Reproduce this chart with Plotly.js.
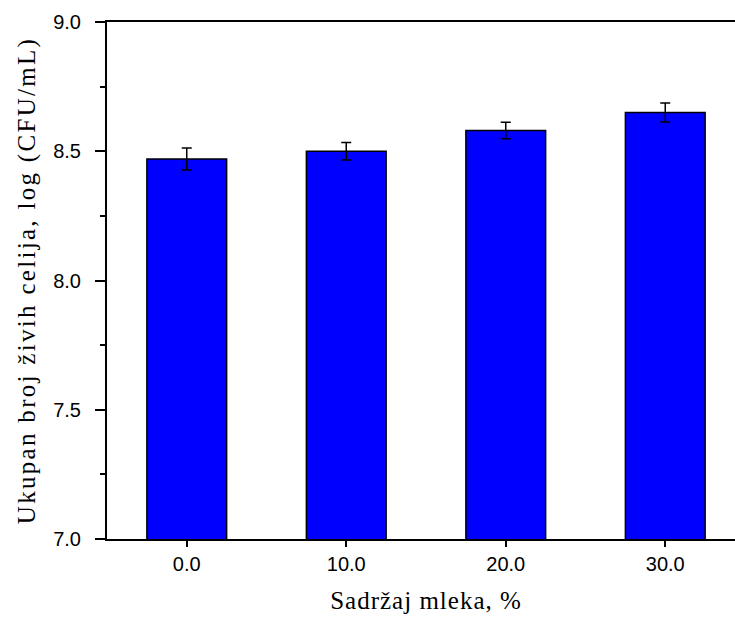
<!DOCTYPE html>
<html>
<head>
<meta charset="utf-8">
<script src="https://cdn.plot.ly/plotly-3.0.1.min.js"></script>
<style>
html, body { margin:0; padding:0; overflow:hidden; background:#fff; }
#chart { width:745px; height:621px; }
.xtitle { letter-spacing: 1px; }
.ytitle { letter-spacing: 2.3px; }
</style>
</head>
<body>
<div id="chart"></div>
<script>
const milkContent = [0, 10, 20, 30];
const tickLabels = ["0.0", "10.0", "20.0", "30.0"];
const viableCount = [8.47, 8.50, 8.58, 8.65];
const errorValues = [0.043, 0.034, 0.032, 0.037];
const yTickVals = [7.0, 7.5, 8.0, 8.5, 9.0];
const yTickText = ['7.0', '7.5', '8.0', '8.5', '9.0'];
const yMinorVals = [7.25, 7.75, 8.25, 8.75];

const sansFont = { family: 'Arial', size: 20, color: '#000' };
const serifFont = { family: 'Liberation Serif', size: 25, color: '#000' };

const trace = {
  type: 'bar',
  x: milkContent,
  y: viableCount,
  width: 5,
  marker: { color: '#0000FF', line: { color: '#000000', width: 1.5 } },
  error_y: { type: 'data', array: errorValues, visible: true, color: '#000000', thickness: 1.5, width: 5 },
  hoverinfo: 'skip'
};

const layout = {
  width: 745, height: 621,
  font: sansFont,
  margin: { l: 107, r: 0, t: 22, b: 82 },
  paper_bgcolor: '#ffffff', plot_bgcolor: '#ffffff',
  showlegend: false,
  bargap: 0,
  xaxis: {
    range: [-5, 35],
    tickmode: 'array', tickvals: milkContent, ticktext: tickLabels,
    showline: true, linecolor: '#000', linewidth: 2, mirror: true,
    ticks: 'outside', ticklen: 6, tickwidth: 2, tickcolor: '#000',
    showgrid: false, zeroline: false,
    tickfont: sansFont,
    title: { text: 'Sadržaj mleka, %', font: serifFont, standoff: 17 }
  },
  yaxis: {
    range: [7.0, 9.0],
    tickmode: 'array', tickvals: yTickVals, ticktext: yTickText,
    showline: true, linecolor: '#000', linewidth: 2, mirror: false,
    ticks: 'outside', ticklen: 10, tickwidth: 2, tickcolor: '#000',
    ticklabelstandoff: 10,
    minor: { tickvals: yMinorVals, ticks: 'outside', ticklen: 5, tickwidth: 2, tickcolor: '#000', showgrid: false },
    showgrid: false, zeroline: false,
    tickfont: sansFont,
    title: { text: 'Ukupan broj živih celija, log (CFU/mL)', font: serifFont, standoff: 10 }
  }
};

Plotly.newPlot('chart', [trace], layout, { displayModeBar: false, staticPlot: true });
</script>
</body>
</html>
